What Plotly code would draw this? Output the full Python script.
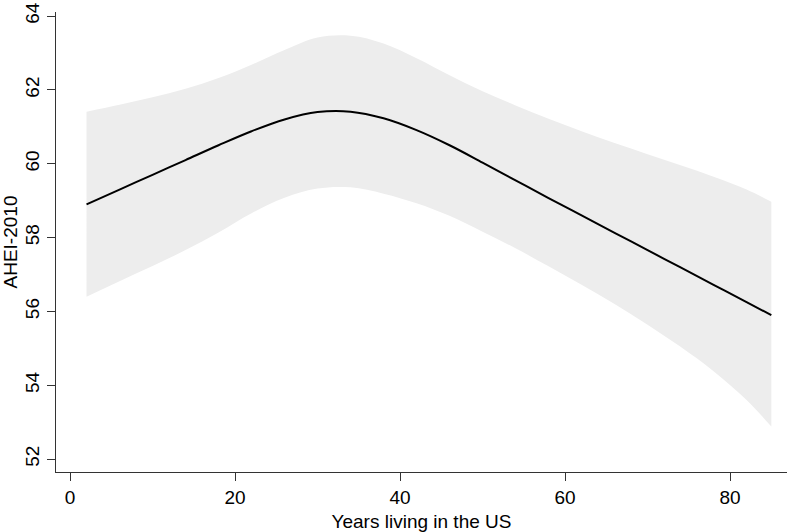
import plotly.graph_objects as go

years = [2, 6, 10, 14, 18, 22, 26, 30, 34, 38, 42, 46, 50, 54, 58, 62, 66, 70, 74, 78, 82, 85]
ahei = [58.90, 59.30, 59.70, 60.10, 60.50, 60.88, 61.20, 61.40, 61.41, 61.23, 60.91, 60.50, 60.03, 59.55,
        59.07, 58.60, 58.13, 57.66, 57.19, 56.72, 56.25, 55.90]
upper = [61.41, 61.60, 61.80, 62.03, 62.32, 62.68, 63.08, 63.42, 63.47, 63.26, 62.86, 62.40, 61.96, 61.58,
         61.22, 60.88, 60.56, 60.26, 59.96, 59.65, 59.30, 58.97]
lower = [56.40, 56.82, 57.23, 57.66, 58.14, 58.66, 59.08, 59.33, 59.36, 59.19, 58.93, 58.59, 58.16, 57.71,
         57.22, 56.72, 56.20, 55.64, 55.04, 54.38, 53.60, 52.88]

x_ticks = [0, 20, 40, 60, 80]
y_ticks = [52, 54, 56, 58, 60, 62, 64]

fig = go.Figure()
fig.add_trace(go.Scatter(x=years, y=lower, mode="lines", line=dict(width=0, shape="spline", smoothing=1.0),
                         showlegend=False, hoverinfo="skip"))
fig.add_trace(go.Scatter(x=years, y=upper, mode="lines", line=dict(width=0, shape="spline", smoothing=1.0),
                         fill="tonexty", fillcolor="#ededed", showlegend=False, hoverinfo="skip"))
fig.add_trace(go.Scatter(x=years, y=ahei, mode="lines",
                         line=dict(color="black", width=2, shape="spline", smoothing=1.0),
                         showlegend=False))

font = dict(family="Liberation Sans, Arial, sans-serif", size=19, color="black")
fig.update_layout(
    width=787, height=532,
    margin=dict(l=56, r=0, t=12, b=60),
    paper_bgcolor="white", plot_bgcolor="white",
    font=font,
    xaxis=dict(range=[-1.7, 86.9], tickvals=x_ticks, ticks="outside", ticklen=8, tickwidth=1.2,
               tickcolor="#333", showline=True, linecolor="#333", linewidth=1.3, showgrid=False,
               zeroline=False, tickfont=font, automargin=False,
               title=dict(text="Years living in the US", font=font)),
    yaxis=dict(range=[51.65, 64.11], tickvals=y_ticks, ticks="outside", ticklen=8, tickwidth=1.2,
               tickcolor="#333", showline=True, linecolor="#333", linewidth=1.3, showgrid=False,
               zeroline=False, tickangle=-90, tickfont=font, automargin=False,
               ticklabeloverflow="allow",
               title=dict(text="AHEI-2010", font=font)),
)

fig.write_html("out.html", config={"displayModeBar": False},
               post_script="document.body.style.margin='0';")
